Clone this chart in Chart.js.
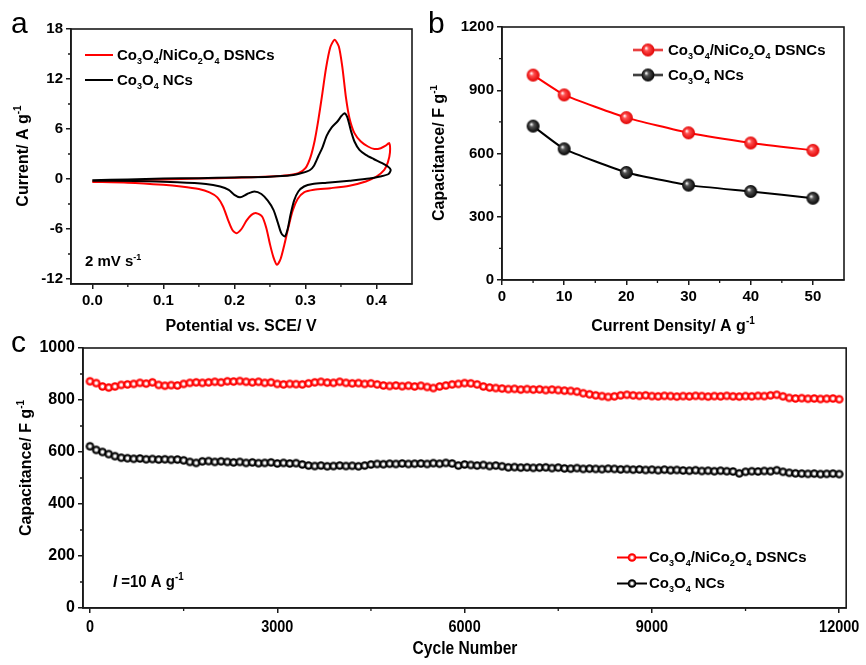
<!DOCTYPE html>
<html>
<head>
<meta charset="utf-8">
<script src="https://cdn.jsdelivr.net/npm/chart.js@4.4.0/dist/chart.umd.min.js"></script>
<style>
  html, body { margin: 0; padding: 0; background: #fff; }
  #wrap { position: relative; width: 866px; height: 665px; overflow: hidden; background: #fff; }
  canvas { position: absolute; }
  .tag { position: absolute; font-family: "Liberation Sans", Arial, sans-serif; font-size: 30px; line-height: 1; color: #000; }
</style>
</head>
<body>
<div id="wrap">
  <canvas id="cvChart" style="left:0;top:0" width="430" height="335"></canvas>
  <canvas id="rateChart" style="left:430px;top:0" width="436" height="335"></canvas>
  <canvas id="cycleChart" style="left:0;top:335px" width="866" height="330"></canvas>
  <div class="tag" style="left:11px;top:8px">a</div>
  <div class="tag" style="left:428px;top:8px">b</div>
  <div class="tag" style="left:11px;top:327px">c</div>
</div>
<script>
// ---- data: panel a (CV at 2 mV/s) ----
const cvPotentialRed = [0.000, 0.050, 0.100, 0.150, 0.200, 0.250, 0.275, 0.290, 0.300, 0.307, 0.313, 0.318, 0.323, 0.329, 0.335, 0.341, 0.347, 0.352, 0.357, 0.362, 0.369, 0.378, 0.388, 0.397, 0.406, 0.413, 0.418, 0.419, 0.416, 0.411, 0.400, 0.385, 0.362, 0.335, 0.312, 0.298, 0.289, 0.282, 0.276, 0.270, 0.265, 0.260, 0.255, 0.250, 0.245, 0.239, 0.231, 0.224, 0.217, 0.210, 0.203, 0.197, 0.191, 0.184, 0.176, 0.165, 0.150, 0.125, 0.100, 0.050, 0.000];
const cvCurrentRed = [-0.30, -0.15, -0.05, 0.05, 0.15, 0.30, 0.45, 0.70, 1.30, 2.60, 4.60, 7.00, 9.80, 13.3, 15.8, 16.7, 15.9, 13.4, 9.8, 7.3, 5.5, 4.5, 3.9, 3.6, 3.7, 4.0, 4.3, 3.2, 2.0, 1.1, 0.3, -0.3, -0.8, -1.1, -1.3, -1.6, -2.4, -3.8, -5.8, -8.0, -9.6, -10.3, -9.4, -7.8, -5.9, -4.5, -4.1, -4.3, -5.0, -6.0, -6.5, -6.1, -4.9, -3.3, -2.2, -1.6, -1.2, -0.9, -0.7, -0.45, -0.35];
const cvPotentialBlack = [0.000, 0.050, 0.100, 0.150, 0.200, 0.250, 0.280, 0.296, 0.306, 0.312, 0.318, 0.324, 0.330, 0.337, 0.345, 0.351, 0.355, 0.359, 0.364, 0.369, 0.376, 0.385, 0.396, 0.408, 0.416, 0.420, 0.417, 0.405, 0.390, 0.362, 0.330, 0.310, 0.298, 0.290, 0.284, 0.279, 0.275, 0.271, 0.266, 0.261, 0.255, 0.247, 0.238, 0.228, 0.218, 0.208, 0.200, 0.192, 0.180, 0.160, 0.120, 0.060, 0.000];
const cvCurrentBlack = [-0.15, -0.05, 0.05, 0.10, 0.18, 0.28, 0.45, 0.75, 1.05, 1.6, 2.7, 3.8, 5.2, 6.2, 6.9, 7.6, 7.9, 7.4, 5.8, 4.5, 3.5, 2.9, 2.4, 1.9, 1.5, 1.1, 0.6, 0.3, 0.05, -0.2, -0.45, -0.6, -0.9, -1.5, -2.6, -4.3, -6.0, -6.9, -6.5, -5.2, -3.7, -2.6, -1.8, -1.5, -1.8, -2.2, -1.9, -1.3, -0.9, -0.6, -0.4, -0.25, -0.2];
const cvXTicks = [0, 0.1, 0.2, 0.3, 0.4];
const cvXMinor = [0.05, 0.15, 0.25, 0.35];
const cvYTicks = [-12, -6, 0, 6, 12, 18];
const cvYMinor = [-9, -3, 3, 9, 15];

// ---- data: panel b (rate capability) ----
const currentDensity = [5, 10, 20, 30, 40, 50];
const rateRed = [972, 878, 770, 698, 650, 615];
const rateBlack = [730, 622, 510, 450, 420, 388];
const rateXTicks = [0, 10, 20, 30, 40, 50];
const rateXMinor = [5, 15, 25, 35, 45];
const rateYTicks = [0, 300, 600, 900, 1200];
const rateYMinor = [150, 450, 750, 1050];

// ---- data: panel c (cycling at 10 A/g, one point per 100 cycles) ----
const cycleStep = 100;
const cycleRed = [
  872, 865, 852, 848, 852, 858, 860, 862, 866, 863,
  868, 858, 855, 857, 856, 862, 866, 868, 866, 868,
  870, 868, 872, 871, 873, 870, 868, 870, 866, 868,
  862, 860, 862, 861, 860, 864, 868, 870, 867, 866,
  870, 866, 864, 865, 862, 864, 860, 856, 854, 856,
  853, 855, 852, 855, 850, 846, 852, 856, 860, 862,
  865, 864, 860, 852, 848, 846, 844, 842, 843, 840,
  842, 840, 841, 838, 840, 838, 836, 835, 832, 826,
  822, 818, 815, 812, 814, 818, 820, 818, 816, 818,
  815, 814, 816, 815, 813, 815, 814, 816, 815, 813,
  815, 814, 816, 814, 813, 815, 814, 816, 815, 818,
  820, 814, 808, 806, 807, 805, 806, 804, 805, 806,
  803];
const cycleBlack = [
  622, 608, 600, 592, 584, 578, 576, 574, 575, 572,
  573, 571, 572, 570, 571, 568, 562, 558, 564, 565,
  562, 564, 562, 560, 562, 558, 560, 557, 558, 560,
  556, 558, 556, 557, 552, 548, 546, 548, 545, 546,
  548, 546, 547, 545, 548, 552, 554, 553, 555, 554,
  556, 554, 555, 556, 554, 557, 555, 558, 556, 548,
  552, 550, 548, 550, 546, 548, 545, 541, 542, 540,
  541, 539, 540, 541, 538, 540, 537, 536, 538, 535,
  536, 535, 534, 536, 535, 533, 534, 532, 533, 531,
  532, 530, 532, 530, 531, 529, 528, 530, 527, 528,
  526, 528, 526, 525, 518, 524, 526, 525, 527, 526,
  530, 524, 520, 518, 517, 516, 517, 515, 516, 517,
  515];
const cycleXTicks = [0, 3000, 6000, 9000, 12000];
const cycleXMinor = [1500, 4500, 7500, 10500];
const cycleYTicks = [0, 200, 400, 600, 800, 1000];
const cycleYMinor = [100, 300, 500, 700, 900];

const RED = '#ff0000';
const BLACK = '#000000';
const INK = '#1a1a1a';
const FONT = '"Liberation Sans", Arial, sans-serif';

// labels with sub/superscripts: [text, 'sub'|'sup'|'', italic]
const labelHybrid = [['Co'], ['3', 'sub'], ['O'], ['4', 'sub'], ['/NiCo'], ['2', 'sub'], ['O'], ['4', 'sub'], [' DSNCs']];
const labelCo3O4 = [['Co'], ['3', 'sub'], ['O'], ['4', 'sub'], [' NCs']];

// Draw a run of text pieces, optionally rotated or squeezed
function drawRich(ctx, parts, x, y, size, family, opts) {
  opts = opts || {};
  const small = Math.round(size * 0.62);
  const setFont = (p) => {
    ctx.font = (p[2] ? 'italic ' : '') + 'bold ' + (p[1] ? small : size) + 'px ' + family;
  };
  let total = 0;
  parts.forEach(p => { setFont(p); total += ctx.measureText(p[0]).width; });
  ctx.save();
  ctx.translate(x, y);
  if (opts.rotate) ctx.rotate(-Math.PI / 2);
  if (opts.scaleX) ctx.scale(opts.scaleX, 1);
  let cx = opts.center ? -total / 2 : 0;
  ctx.textAlign = 'left';
  ctx.textBaseline = 'alphabetic';
  ctx.fillStyle = '#000';
  parts.forEach(p => {
    setFont(p);
    let dy = 0;
    if (p[1] === 'sub') dy = size * 0.24;
    if (p[1] === 'sup') dy = -size * 0.42;
    ctx.fillText(p[0], cx, dy);
    cx += ctx.measureText(p[0]).width;
  });
  ctx.restore();
}

// Shaded ball marker, optionally with a legend line through it
function makeBall(r, base, light, lineLen, ring) {
  const c = document.createElement('canvas');
  const w = lineLen || Math.ceil(2 * r + 2);
  const h = Math.ceil(2 * r + 2);
  c.width = w;
  c.height = h;
  const g = c.getContext('2d');
  const cx = w / 2, cy = h / 2;
  if (lineLen) {
    g.strokeStyle = base;
    g.lineWidth = 2;
    g.beginPath();
    g.moveTo(0, cy);
    g.lineTo(w, cy);
    g.stroke();
  }
  const off = ring ? 0 : r * 0.3;
  const grad = g.createRadialGradient(cx - off, cy - off, r * 0.05, cx, cy, r);
  grad.addColorStop(0, '#ffffff');
  if (ring) {
    grad.addColorStop(0.2, '#ffffff');
    grad.addColorStop(0.45, light);
    grad.addColorStop(0.7, base);
  } else {
    grad.addColorStop(0.3, light);
  }
  grad.addColorStop(1, base);
  g.fillStyle = grad;
  g.beginPath();
  g.arc(cx, cy, r, 0, Math.PI * 2);
  g.fill();
  return c;
}

// Frame round the plot area and minor ticks
const framePlugin = {
  id: 'frame',
  afterDraw(chart, args, opts) {
    const { ctx, chartArea: a } = chart;
    const xs = chart.scales.x, ys = chart.scales.y;
    ctx.save();
    ctx.strokeStyle = INK;
    ctx.lineWidth = 1.6;
    ctx.strokeRect(a.left, a.top, a.right - a.left, a.bottom - a.top);
    ctx.lineWidth = 1.3;
    ctx.beginPath();
    (opts.xMinor || []).forEach(v => {
      const px = xs.getPixelForValue(v);
      ctx.moveTo(px, a.bottom);
      ctx.lineTo(px, a.bottom + 3);
    });
    (opts.yMinor || []).forEach(v => {
      const py = ys.getPixelForValue(v);
      ctx.moveTo(a.left, py);
      ctx.lineTo(a.left - 3, py);
    });
    ctx.stroke();
    ctx.restore();
  }
};
Chart.register(framePlugin);

function axis(min, max, ticks, fmt, fit, isX, size, color) {
  return {
    type: 'linear',
    min: min,
    max: max,
    afterBuildTicks: s => { s.ticks = ticks.map(v => ({ value: v })); },
    afterFit: s => { if (isX) s.height = fit; else s.width = fit; },
    grid: { drawOnChartArea: false, drawTicks: true, tickLength: 5, color: INK, lineWidth: 1.5 },
    border: { display: true, color: INK, width: 1.6 },
    title: { display: false },
    ticks: {
      color: color || '#000',
      font: { family: FONT, size: size, weight: 'bold' },
      padding: 3,
      maxRotation: 0,
      autoSkip: false,
      callback: fmt
    }
  };
}

const plain = v => String(v);

function baseOptions(pad, scales, frame) {
  return {
    responsive: false,
    animation: false,
    events: [],
    layout: { padding: pad },
    plugins: { legend: { display: false }, tooltip: { enabled: false }, frame: frame },
    scales: scales
  };
}

// ---- panel a ----
new Chart(document.getElementById('cvChart'), {
  type: 'scatter',
  data: {
    datasets: [
      {
        data: cvPotentialBlack.map((x, i) => ({ x: x, y: cvCurrentBlack[i] })),
        showLine: true, borderColor: BLACK, borderWidth: 2, pointRadius: 0, tension: 0.25, order: 0
      },
      {
        data: cvPotentialRed.map((x, i) => ({ x: x, y: cvCurrentRed[i] })),
        showLine: true, borderColor: RED, borderWidth: 2, pointRadius: 0, tension: 0.25, order: 1
      }
    ]
  },
  options: baseOptions(
    { top: 29, right: 18, left: 0, bottom: 0 },
    {
      x: axis(-0.03, 0.45, cvXTicks, v => v.toFixed(1), 51, true, 15),
      y: axis(-12.6, 18, cvYTicks, plain, 71, false, 15)
    },
    { xMinor: cvXMinor, yMinor: cvYMinor }
  ),
  plugins: [{
    id: 'cvText',
    afterDraw(chart) {
      const ctx = chart.ctx;
      ctx.save();
      ctx.lineWidth = 2;
      ctx.strokeStyle = RED;
      ctx.beginPath(); ctx.moveTo(85, 55); ctx.lineTo(113, 55); ctx.stroke();
      ctx.strokeStyle = BLACK;
      ctx.beginPath(); ctx.moveTo(85, 80); ctx.lineTo(113, 80); ctx.stroke();
      ctx.restore();
      drawRich(ctx, labelHybrid, 117, 60, 15, FONT);
      drawRich(ctx, labelCo3O4, 117, 85, 15, FONT);
      drawRich(ctx, [['2 mV s'], ['-1', 'sup']], 85, 266, 15, FONT);
      drawRich(ctx, [['Current/ A g'], ['-1', 'sup']], 28, 156, 16, FONT, { rotate: true, center: true });
      drawRich(ctx, [['Potential vs. SCE/ V']], 241, 331, 16, FONT, { center: true });
    }
  }]
});

// ---- panel b ----
const ballRedB = makeBall(6.5, '#e00000', '#ff5050');
const ballBlackB = makeBall(6.5, '#000000', '#555555');
new Chart(document.getElementById('rateChart'), {
  type: 'line',
  data: {
    datasets: [
      {
        data: currentDensity.map((x, i) => ({ x: x, y: rateRed[i] })),
        borderColor: RED, borderWidth: 2, pointStyle: ballRedB, pointRadius: 6, tension: 0.15
      },
      {
        data: currentDensity.map((x, i) => ({ x: x, y: rateBlack[i] })),
        borderColor: BLACK, borderWidth: 2, pointStyle: ballBlackB, pointRadius: 6, tension: 0.15
      }
    ]
  },
  options: baseOptions(
    { top: 27, right: 22, left: 0, bottom: 0 },
    {
      x: axis(0, 55, rateXTicks, plain, 55, true, 15),
      y: axis(0, 1200, rateYTicks, plain, 72, false, 15)
    },
    { xMinor: rateXMinor, yMinor: rateYMinor }
  ),
  plugins: [{
    id: 'rateText',
    afterDraw(chart) {
      const ctx = chart.ctx;
      ctx.drawImage(makeBall(6.5, '#e00000', '#ff5050', 30), 203, 50 - 7.5);
      ctx.drawImage(makeBall(6.5, '#000000', '#555555', 30), 203, 75 - 7.5);
      drawRich(ctx, labelHybrid, 238, 55, 15, FONT);
      drawRich(ctx, labelCo3O4, 238, 80, 15, FONT);
      drawRich(ctx, [['Capacitance/ F g'], ['-1', 'sup']], 14, 153, 16, FONT, { rotate: true, center: true });
      drawRich(ctx, [['Current Density/ A g'], ['-1', 'sup']], 243, 331, 16, FONT, { center: true });
    }
  }]
});

// ---- panel c ----
const ballRedC = makeBall(4.3, '#ff0000', '#ff6060', 0, true);
const ballBlackC = makeBall(4.3, '#000000', '#707070', 0, true);
new Chart(document.getElementById('cycleChart'), {
  type: 'line',
  data: {
    datasets: [
      {
        data: cycleRed.map((v, i) => ({ x: i * cycleStep, y: v })),
        borderColor: RED, borderWidth: 1, pointStyle: ballRedC, pointRadius: 4, tension: 0
      },
      {
        data: cycleBlack.map((v, i) => ({ x: i * cycleStep, y: v })),
        borderColor: BLACK, borderWidth: 1, pointStyle: ballBlackC, pointRadius: 4, tension: 0
      }
    ]
  },
  options: baseOptions(
    { top: 13, right: 19, left: 0, bottom: 0 },
    {
      // x labels are drawn squeezed below, so the library's own are hidden
      x: axis(-112, 12112, cycleXTicks, plain, 57, true, 17, 'rgba(0,0,0,0)'),
      y: axis(0, 1000, cycleYTicks, plain, 83, false, 16)
    },
    { xMinor: cycleXMinor, yMinor: cycleYMinor }
  ),
  plugins: [{
    id: 'cycleText',
    afterDraw(chart) {
      const ctx = chart.ctx;
      const xs = chart.scales.x;
      const bottom = chart.chartArea.bottom;
      xs.ticks.forEach(t => {
        drawRich(ctx, [[String(t.value)]], xs.getPixelForValue(t.value), bottom + 24, 17, FONT, { center: true, scaleX: 0.85 });
      });
      ctx.drawImage(makeBall(4.3, '#ff0000', '#ff6060', 30, true), 617, 222 - 5);
      ctx.drawImage(makeBall(4.3, '#000000', '#707070', 30, true), 617, 248 - 5);
      drawRich(ctx, labelHybrid, 649, 227, 15, FONT);
      drawRich(ctx, labelCo3O4, 649, 253, 15, FONT);
      drawRich(ctx, [['I', '', true], [' =10 A g'], ['-1', 'sup']], 113, 252, 17, FONT, { scaleX: 0.88 });
      drawRich(ctx, [['Capacitance/ F g'], ['-1', 'sup']], 31, 133, 16, FONT, { rotate: true, center: true });
      drawRich(ctx, [['Cycle Number']], 465, 319, 19, FONT, { center: true, scaleX: 0.82 });
    }
  }]
});
</script>
</body>
</html>
